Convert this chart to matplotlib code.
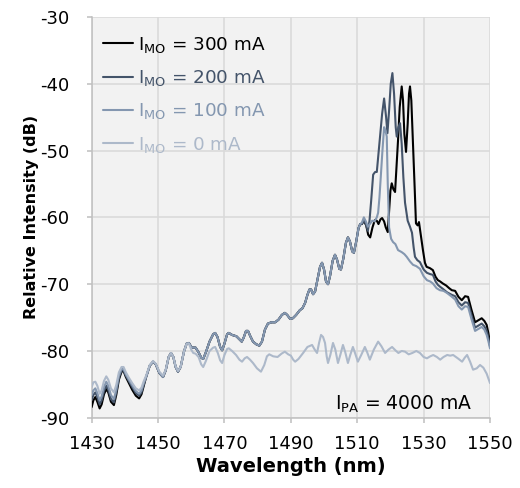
import matplotlib
matplotlib.use("Agg")
import matplotlib.pyplot as plt
import numpy as np

plt.rcParams['font.family'] = ['DejaVu Sans']
plt.rcParams['mathtext.fontset'] = 'dejavusans'
plt.rcParams['axes.unicode_minus'] = False

# ---- data ----
# start segment (1430-1446 nm), one array per series
start_wl = [1430.0, 1430.5, 1431.1, 1431.7, 1432.4, 1433.0, 1433.7, 1434.4, 1435.0, 1435.8,
            1436.7, 1437.4, 1438.2, 1439.0, 1439.6, 1440.3, 1441.2, 1442.2, 1443.3, 1444.3,
            1445.0, 1445.7]
start_300 = [-88.4, -87.4, -86.9, -87.6, -88.6, -88.0, -86.5, -85.7, -86.2, -87.6,
             -88.1, -86.6, -84.3, -83.1, -83.0, -83.9, -84.8, -85.8, -86.7, -87.1,
             -86.5, -85.2]
start_200 = [-87.3, -86.6, -86.2, -86.9, -88.0, -87.4, -86.0, -85.2, -85.8, -87.2,
             -87.7, -86.2, -84.0, -82.9, -82.9, -83.7, -84.5, -85.4, -86.3, -86.7,
             -86.2, -85.0]
start_100 = [-86.6, -85.9, -85.6, -86.3, -87.4, -86.8, -85.4, -84.6, -85.2, -86.6,
             -87.2, -85.8, -83.7, -82.7, -82.7, -83.5, -84.3, -85.1, -86.0, -86.4,
             -85.9, -84.8]
start_0 = [-85.4, -84.7, -84.6, -85.2, -86.4, -85.9, -84.5, -83.8, -84.3, -85.6,
           -86.2, -85.1, -83.2, -82.4, -82.4, -83.2, -84.0, -84.8, -85.6, -85.9,
           -85.5, -84.5]

# shared middle segment where the 300 / 200 / 100 mA spectra overlap
mid_wl = [1446.4, 1447.5, 1448.5, 1449.3, 1450.4, 1451.5, 1452.3, 1453.2, 1453.9, 1454.6,
          1455.3, 1456.0, 1456.8, 1457.8, 1458.6, 1459.3, 1460.0, 1460.6, 1461.3, 1462.2,
          1463.0, 1463.6, 1464.4, 1465.5, 1466.6, 1467.2, 1467.9, 1468.7, 1469.3, 1470.0,
          1470.8, 1471.3, 1472.3, 1473.6, 1474.4, 1475.2, 1475.8, 1476.5, 1477.1, 1477.8,
          1478.6, 1479.6, 1480.5, 1481.3, 1482.2, 1483.1, 1484.2, 1485.3, 1486.3, 1487.3,
          1488.2, 1488.9, 1489.8, 1490.6, 1491.6, 1492.7, 1493.5, 1494.3, 1495.0, 1495.6,
          1496.1, 1496.7, 1497.3, 1498.0, 1498.8, 1499.4, 1500.0, 1500.6, 1501.2, 1501.8,
          1502.6, 1503.3, 1503.9, 1504.6, 1505.1, 1505.8, 1506.6, 1507.2, 1507.8, 1508.5,
          1509.0, 1509.7, 1510.4, 1510.9]
mid_db = [-83.9, -82.2, -81.6, -82.0, -83.3, -83.9, -82.9, -80.9, -80.3, -80.9,
          -82.4, -83.1, -82.4, -80.1, -78.9, -78.8, -79.4, -79.5, -79.5, -80.2,
          -81.0, -81.2, -80.2, -78.6, -77.5, -77.3, -77.9, -79.4, -79.9, -78.9,
          -77.5, -77.3, -77.6, -77.8, -78.2, -78.6, -78.0, -77.0, -77.0, -77.8,
          -78.6, -79.0, -79.2, -78.6, -76.8, -75.9, -75.7, -75.7, -75.3, -74.6,
          -74.3, -74.6, -75.2, -75.1, -74.6, -73.9, -73.6, -72.8, -71.6, -70.8,
          -70.8, -71.5, -71.1, -69.4, -67.4, -66.8, -67.8, -69.6, -70.0, -68.8,
          -66.5, -65.6, -66.3, -67.7, -67.8, -66.2, -63.8, -63.0, -63.6, -65.1,
          -65.3, -63.6, -61.6, -61.0]

# 0 mA spectrum after 1446 nm
wl_0_rest = [1446.4, 1447.5, 1448.5, 1449.3, 1450.4, 1451.5, 1452.3, 1453.2, 1453.9, 1454.6,
             1455.3, 1456.0, 1456.8, 1457.8, 1458.6, 1459.3, 1460.0, 1460.6, 1461.3, 1462.2,
             1463.0, 1463.6, 1464.4, 1465.5, 1466.6, 1467.2, 1468.0, 1468.7, 1469.3, 1470.0,
             1470.8, 1471.3, 1472.3, 1473.5, 1474.5, 1475.3, 1476.1, 1476.8, 1477.7, 1478.6,
             1479.8, 1481.0, 1482.0, 1482.8, 1483.5, 1484.7, 1486.0, 1487.2, 1488.2, 1489.2,
             1490.0, 1490.7, 1491.3, 1492.3, 1493.7, 1495.0, 1496.4, 1497.2, 1497.9, 1498.5,
             1499.1, 1499.7, 1500.3, 1500.8, 1501.2, 1501.9, 1502.7, 1503.4, 1504.2, 1504.9,
             1505.7, 1506.4, 1507.2, 1507.9, 1508.7, 1509.4, 1510.2, 1511.2, 1512.3, 1513.0,
             1513.8, 1515.0, 1516.3, 1517.3, 1518.4, 1519.4, 1520.5, 1521.5, 1522.4, 1523.4,
             1524.4, 1525.5, 1526.6, 1527.8, 1528.9, 1530.0, 1531.0, 1532.0, 1532.9, 1534.0,
             1535.0, 1536.0, 1537.1, 1538.0, 1538.9, 1540.3, 1541.6, 1542.4, 1543.1, 1544.0,
             1544.9, 1546.0, 1547.0, 1548.0, 1549.0, 1550.0]
db_0_rest = [-83.7, -82.1, -81.5, -81.9, -83.1, -83.7, -82.8, -80.9, -80.3, -80.9,
             -82.3, -83.0, -82.4, -80.1, -78.9, -78.9, -79.8, -80.3, -80.4, -80.9,
             -82.0, -82.4, -81.5, -80.0, -79.5, -79.4, -80.3, -81.4, -81.8, -80.6,
             -79.7, -79.6, -80.0, -80.6, -81.3, -81.6, -81.1, -80.9, -81.3, -81.8,
             -82.6, -83.1, -82.1, -80.8, -80.5, -80.8, -80.9, -80.4, -80.1, -80.5,
             -80.7, -81.3, -81.6, -81.2, -80.3, -79.4, -79.1, -79.8, -80.3, -78.8,
             -77.6, -77.9, -78.8, -80.8, -81.8, -80.6, -78.8, -79.8, -81.8, -80.6,
             -79.1, -80.2, -81.8, -80.6, -79.4, -80.4, -81.6, -80.6, -79.4, -80.2,
             -81.3, -79.8, -78.6, -79.3, -80.3, -79.8, -79.4, -79.9, -80.3, -80.0,
             -80.1, -80.5, -80.3, -80.0, -80.3, -80.9, -81.1, -80.8, -80.6, -80.9,
             -81.3, -80.9, -80.6, -80.7, -80.6, -81.1, -81.6, -81.0, -80.6, -81.6,
             -82.8, -82.6, -82.1, -82.5, -83.4, -84.8]

# lasing region and long-wavelength side, one array per series
tail_wl_300 = [1511.4, 1512.0, 1512.7, 1513.3, 1513.9, 1514.6, 1515.3, 1515.9, 1516.4, 1517.0,
               1517.5, 1518.1, 1518.6, 1519.2, 1519.6, 1520.0, 1520.4, 1520.9, 1521.4, 1521.9,
               1522.3, 1522.8, 1523.4, 1523.8, 1524.2, 1524.7, 1525.2, 1525.6, 1525.9, 1526.3,
               1526.8, 1527.3, 1527.7, 1528.2, 1528.6, 1529.1, 1529.8, 1530.4, 1530.9, 1531.9,
               1532.8, 1533.6, 1534.3, 1535.0, 1535.8, 1536.8, 1537.7, 1538.5, 1539.5, 1540.5,
               1541.5, 1542.5, 1543.4, 1544.4, 1545.5, 1546.5, 1547.5, 1548.3, 1549.0, 1549.5,
               1550.0]
tail_db_300 = [-61.0, -60.5, -61.2, -62.6, -63.0, -61.5, -60.4, -60.5, -61.0, -60.3,
               -60.1, -60.6, -61.5, -62.2, -59.0, -56.0, -54.9, -55.8, -56.2, -52.0,
               -48.4, -43.5, -40.4, -42.5, -47.5, -50.2, -46.0, -41.5, -40.4, -42.5,
               -48.9, -55.5, -60.9, -61.2, -60.7, -62.5, -64.9, -66.8, -67.4, -67.6,
               -67.9, -68.9, -69.4, -69.6, -69.9, -70.2, -70.6, -70.9, -71.0, -71.9,
               -72.4, -71.8, -71.9, -73.8, -75.7, -75.4, -75.1, -75.5, -76.1, -77.3,
               -78.8]

tail_wl_200 = [1511.4, 1512.0, 1512.6, 1513.2, 1513.7, 1514.2, 1514.8, 1515.4, 1515.9, 1516.4,
               1516.9, 1517.5, 1518.1, 1518.7, 1519.1, 1519.6, 1520.1, 1520.6, 1521.1, 1521.6,
               1521.9, 1522.4, 1522.9, 1523.4, 1523.9, 1524.4, 1525.2, 1525.9, 1526.5, 1527.0,
               1527.4, 1528.1, 1528.9, 1530.0, 1531.0, 1532.0, 1532.8, 1533.6, 1534.3, 1535.0,
               1535.8, 1537.0, 1538.5, 1539.5, 1540.5, 1541.5, 1542.5, 1543.4, 1544.4, 1545.5,
               1546.5, 1547.5, 1548.3, 1549.0, 1549.5, 1550.0]
tail_db_200 = [-61.0, -60.4, -61.0, -62.0, -60.5, -57.5, -53.6, -53.2, -53.2, -50.5,
               -47.9, -44.5, -42.2, -45.0, -47.4, -44.0, -40.0, -38.4, -41.5, -46.5,
               -47.9, -46.5, -45.9, -49.0, -54.0, -57.8, -60.5, -61.4, -62.3, -64.5,
               -65.9, -66.4, -66.7, -67.8, -68.3, -68.5, -68.6, -69.6, -70.1, -70.4,
               -70.7, -71.2, -71.6, -71.8, -72.7, -73.2, -72.7, -72.8, -74.6, -76.5,
               -76.2, -75.9, -76.3, -77.0, -78.0, -79.3]

tail_wl_100 = [1511.4, 1512.0, 1512.6, 1513.2, 1513.8, 1514.5, 1515.2, 1515.9, 1516.3, 1516.7,
               1517.1, 1517.6, 1518.1, 1518.5, 1518.9, 1519.2, 1519.6, 1520.2, 1520.8, 1521.5,
               1522.3, 1523.4, 1524.2, 1524.9, 1525.9, 1526.8, 1527.8, 1528.9, 1530.0, 1531.0,
               1532.0, 1532.8, 1533.9, 1534.9, 1536.0, 1537.0, 1538.3, 1539.5, 1540.5, 1541.5,
               1542.5, 1543.4, 1544.4, 1545.5, 1546.5, 1547.5, 1548.3, 1549.0, 1549.5, 1550.0]
tail_db_100 = [-60.8, -60.0, -60.6, -61.4, -61.0, -60.5, -60.6, -60.0, -59.3, -57.0,
               -53.9, -50.0, -46.5, -47.0, -47.9, -55.0, -61.5, -63.2, -63.7, -64.0,
               -64.9, -65.2, -65.5, -65.9, -66.6, -67.1, -67.3, -67.7, -68.8, -69.4,
               -69.6, -69.9, -70.6, -70.9, -71.0, -71.3, -71.8, -72.3, -73.3, -73.8,
               -73.3, -73.4, -75.2, -77.0, -76.7, -76.4, -76.8, -77.6, -78.5, -79.6]

labels = ['300', '200', '100', '0']
colors = ['#000000', '#44546a', '#8497b0', '#adb9ca']

series = {
    '300': (start_wl + mid_wl + tail_wl_300, start_300 + mid_db + tail_db_300),
    '200': (start_wl + mid_wl + tail_wl_200, start_200 + mid_db + tail_db_200),
    '100': (start_wl + mid_wl + tail_wl_100, start_100 + mid_db + tail_db_100),
    '0': (start_wl + wl_0_rest, start_0 + db_0_rest),
}

fig = plt.figure(figsize=(5.2, 4.88), dpi=100)
ax = fig.add_axes([0.1763, 0.1439, 0.7660, 0.8213])
ax.set_facecolor('#f2f2f2')

handles = {}
for i, (lab, col) in enumerate(zip(labels, colors)):
    x, y = series[lab]
    h, = ax.plot(x, y, color=col, lw=1.5, solid_joinstyle='round',
                 solid_capstyle='round', zorder=3 + i)
    handles[lab] = h

ax.set_xlim(1430, 1550)
ax.set_ylim(-90, -30)
ax.set_xticks(np.arange(1430, 1551, 20))
ax.set_yticks(np.arange(-90, -29, 10))
ax.grid(True, color='#d9d9d9', lw=1.1, zorder=0)
ax.set_axisbelow(True)
for s in ['top', 'right']:
    ax.spines[s].set_visible(False)
for s in ['left', 'bottom']:
    ax.spines[s].set_color('#bfbfbf')
    ax.spines[s].set_linewidth(1.1)
ax.tick_params(axis='both', labelsize=13, colors='#bfbfbf', labelcolor='#000000',
               length=3.6, width=1.1)
ax.tick_params(axis='x', pad=9)
ax.tick_params(axis='y', pad=12.5)

ax.set_xlabel('Wavelength (nm)', fontsize=14, fontweight='bold', labelpad=3)
ax.set_ylabel('Relative Intensity (dB)', fontsize=11.5, fontweight='bold', labelpad=1)

leg = ax.legend([handles[l] for l in labels],
                [r'I$_{\mathrm{MO}}$ = ' + l + ' mA' for l in labels],
                loc='upper left', bbox_to_anchor=(-0.012, 0.997), frameon=False,
                fontsize=13.2, handlelength=1.6, handletextpad=0.28,
                labelspacing=0.73, borderaxespad=0.5)
for t, c in zip(leg.get_texts(), colors):
    t.set_color(c)

ax.text(0.957, 0.019, r'I$_{\mathrm{PA}}$ = 4000 mA', transform=ax.transAxes,
        ha='right', va='baseline', fontsize=13.5, color='#000000')

fig.savefig('out.png', dpi=100, facecolor='white')
